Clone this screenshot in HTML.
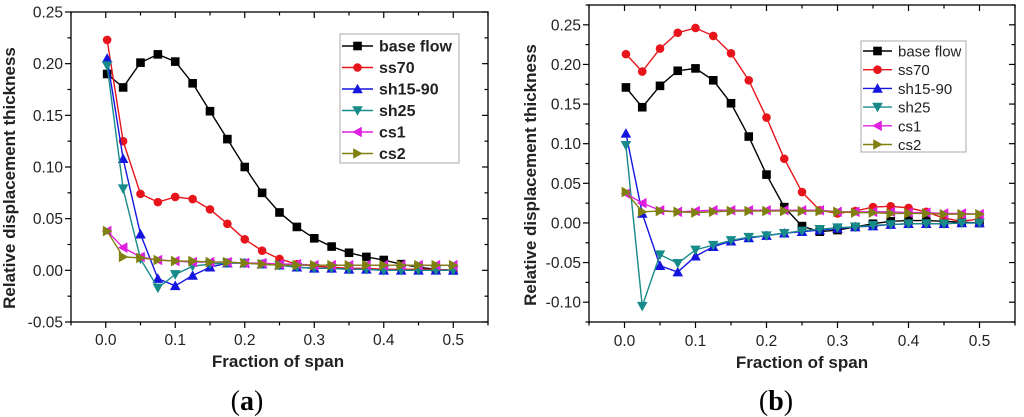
<!DOCTYPE html>
<html><head><meta charset="utf-8"><style>
html,body{margin:0;padding:0;background:#fff;width:1024px;height:417px;overflow:hidden}
svg{display:block;font-family:"Liberation Sans",Arial,sans-serif}
</style></head><body>
<svg id="fig" width="1024" height="417" viewBox="0 0 1024 417"></svg>
<script>
const xVals=[0.002,0.025,0.05,0.075,0.1,0.125,0.15,0.175,0.2,0.225,0.25,0.275,0.3,0.325,0.35,0.375,0.4,0.425,0.45,0.475,0.5];
const seriesNames=["base flow","ss70","sh15-90","sh25","cs1","cs2"];
const yTicksA=[-0.05,0,0.05,0.10,0.15,0.20,0.25];
const yTicksB=[-0.10,-0.05,0,0.05,0.10,0.15,0.20,0.25];
const xTicks=[0,0.1,0.2,0.3,0.4,0.5];
const aBase=[0.19,0.177,0.201,0.209,0.202,0.181,0.154,0.127,0.100,0.075,0.056,0.042,0.031,0.023,0.017,0.013,0.010,0.006,0.003,0.001,0.0];
const aSs70=[0.223,0.125,0.074,0.066,0.071,0.069,0.059,0.045,0.030,0.019,0.011,0.006,0.004,0.003,0.002,0.002,0.001,0.001,0.001,0.001,0.0];
const aSh15=[0.205,0.108,0.035,-0.008,-0.015,-0.005,0.003,0.007,0.007,0.006,0.005,0.003,0.002,0.002,0.001,0.001,0.0,0.0,0.0,0.0,0.0];
const aSh25=[0.198,0.079,0.011,-0.017,-0.004,0.004,0.006,0.007,0.007,0.006,0.005,0.003,0.002,0.002,0.001,0.001,0.0,0.0,0.0,0.0,0.0];
const aCs1=[0.038,0.022,0.013,0.010,0.009,0.008,0.008,0.008,0.007,0.007,0.006,0.006,0.005,0.005,0.005,0.005,0.005,0.005,0.005,0.005,0.005];
const aCs2=[0.038,0.013,0.012,0.010,0.009,0.009,0.008,0.008,0.007,0.006,0.005,0.005,0.005,0.005,0.005,0.005,0.005,0.005,0.005,0.005,0.005];
const bBase=[0.171,0.146,0.173,0.192,0.195,0.180,0.151,0.109,0.061,0.020,-0.004,-0.011,-0.009,-0.005,-0.001,0.002,0.003,0.003,0.002,0.001,0.0];
const bSs70=[0.213,0.191,0.220,0.240,0.246,0.236,0.214,0.180,0.133,0.081,0.039,0.016,0.012,0.015,0.020,0.021,0.019,0.014,0.006,0.002,0.005];
const bSh15=[0.113,0.012,-0.054,-0.062,-0.042,-0.030,-0.023,-0.019,-0.016,-0.013,-0.011,-0.009,-0.007,-0.005,-0.004,-0.002,-0.001,-0.001,-0.001,0.0,0.0];
const bSh25=[0.098,-0.105,-0.040,-0.051,-0.034,-0.028,-0.022,-0.018,-0.016,-0.013,-0.010,-0.008,-0.006,-0.005,-0.003,-0.002,-0.001,-0.001,-0.001,0.0,0.0];
const bCs1=[0.037,0.025,0.016,0.014,0.015,0.016,0.016,0.016,0.016,0.016,0.016,0.016,0.014,0.014,0.014,0.014,0.013,0.013,0.012,0.012,0.011];
const bCs2=[0.039,0.014,0.015,0.014,0.013,0.014,0.015,0.015,0.015,0.015,0.015,0.015,0.014,0.013,0.013,0.012,0.012,0.012,0.011,0.011,0.011];

const colors=["#000000","#e8141b","#1515e0","#178a8a","#e020e0","#808010"];
const markers=["square","circle","up","down","left","right"];
const NS="http://www.w3.org/2000/svg";
const svg=document.getElementById("fig");
function mk(tag,attrs,parent){const e=document.createElementNS(NS,tag);for(const k in attrs)e.setAttribute(k,attrs[k]);(parent||svg).appendChild(e);return e;}
function marker(type,cx,cy,col,g){
  const s=4.3;let e;
  if(type==="square")e=mk("rect",{x:cx-s,y:cy-s,width:2*s,height:2*s,fill:col},g);
  else if(type==="circle")e=mk("circle",{cx:cx,cy:cy,r:s,fill:col},g);
  else{let p;
    if(type==="up")p=[[cx,cy-s-1],[cx-s-1,cy+s],[cx+s+1,cy+s]];
    if(type==="down")p=[[cx,cy+s+1],[cx-s-1,cy-s],[cx+s+1,cy-s]];
    if(type==="left")p=[[cx-s-1,cy],[cx+s,cy-s-1],[cx+s,cy+s+1]];
    if(type==="right")p=[[cx+s+1,cy],[cx-s,cy-s-1],[cx-s,cy+s+1]];
    e=mk("polygon",{points:p.map(q=>q.join(",")).join(" "),fill:col},g);}
  return e;
}
function panel(cfg){
  const {L,R,T,B,ymin,ymax,yTicks,yMinorStep,data,tag,leg,boldLeg,titleX,titleY,labelX,labelY,letter}=cfg;
  const xs=v=>L+(v+0.05)/0.6*(R-L);
  const ys=v=>B-(v-ymin)/(ymax-ymin)*(B-T);
  const g=mk("g",{});
  
  
  const frame=mk("rect",{x:L,y:T,width:R-L,height:B-T,fill:"none",stroke:"#000","stroke-width":1.3},g);
  
  
  for(let v=Math.ceil(ymin/yMinorStep)*yMinorStep;v<=ymax+1e-9;v+=yMinorStep){
    const y=ys(v);const major=yTicks.some(t=>Math.abs(t-v)<1e-6);const len=major?6:3.5;
    mk("line",{x1:L,x2:L-len,y1:y,y2:y,stroke:"#000","stroke-width":1.2},g);
    mk("line",{x1:R,x2:R-len,y1:y,y2:y,stroke:"#000","stroke-width":1.2},g);
  }
  yTicks.forEach(v=>{const t=mk("text",{x:L-8,y:ys(v)+5.5,"text-anchor":"end","font-size":15.5,fill:"#222"},g);t.textContent=v.toFixed(2);
    
    });
  for(let v=-0.05;v<=0.55+1e-9;v+=0.05){
    const x=xs(v);const major=Math.abs(Math.round(v*10)-v*10)<1e-6;const len=major?6:3.5;
    mk("line",{x1:x,x2:x,y1:B,y2:B+len,stroke:"#000","stroke-width":1.2},g);
    mk("line",{x1:x,x2:x,y1:T,y2:T+len,stroke:"#000","stroke-width":1.2},g);
  }
  xTicks.forEach(v=>{const t=mk("text",{x:xs(v),y:labelY,"text-anchor":"middle","font-size":15.5,fill:"#222"},g);t.textContent=v.toFixed(1);
    
    });
  const xt=mk("text",{x:labelX,y:labelY+22,"text-anchor":"middle","font-size":17,"font-weight":"bold",fill:"#222"},g);
  xt.textContent="Fraction of span";
  
  
  const yt=mk("text",{x:titleX,y:titleY,"text-anchor":"middle","font-size":17,"font-weight":"bold",fill:"#222",transform:`rotate(-90 ${titleX} ${titleY})`},g);
  yt.textContent="Relative displacement thickness";
  
  
  data.forEach((arr,i)=>{
    const sg=mk("g",{},g);
    
    
    mk("polyline",{points:arr.map((v,j)=>xs(xVals[j])+","+ys(v)).join(" "),fill:"none",stroke:colors[i],"stroke-width":1.4},sg);
    arr.forEach((v,j)=>{const m=marker(markers[i],xs(xVals[j]),ys(v),colors[i],sg);
      
      });
  });
  const lg=mk("g",{},g);
  
  
  mk("rect",{x:leg.x,y:leg.y,width:leg.w,height:leg.h,fill:"#fff",stroke:"#aaa","stroke-width":1},lg);
  seriesNames.forEach((n,i)=>{
    const y=leg.y0+i*leg.dy;
    const eg=mk("g",{},lg);
    
    
    mk("line",{x1:leg.x+2,x2:leg.x+leg.lw,y1:y,y2:y,stroke:colors[i],"stroke-width":1.4},eg);
    marker(markers[i],leg.x+2+(leg.lw-2)/2,y,colors[i],eg);
    const t=mk("text",{x:leg.x+leg.lw+6,y:y+5.5,"font-size":leg.fs,"font-weight":boldLeg?"bold":"normal",fill:"#222"},eg);
    t.textContent=n;
  });
  const lt=mk("text",{x:letter.x,y:letter.y,"text-anchor":"middle","font-size":28,"font-family":"Liberation Serif,serif",fill:"#000"},g);
  lt.innerHTML='(<tspan font-weight="bold">'+tag+'</tspan>)';
  
  
}
panel({L:71,R:488,T:12,B:322,ymin:-0.05,ymax:0.25,yTicks:yTicksA,yMinorStep:0.025,
  data:[aBase,aSs70,aSh15,aSh25,aCs1,aCs2],tag:"a",
  leg:{x:340,y:34,w:119,h:129,y0:46,dy:21.5,lw:33,fs:16},boldLeg:true,
  titleX:15,titleY:178,labelX:278,labelY:345,letter:{x:247,y:410}});
panel({L:589,R:1015,T:5,B:322,ymin:-0.125,ymax:0.275,yTicks:yTicksB,yMinorStep:0.025,
  data:[bBase,bSs70,bSh15,bSh25,bCs1,bCs2],tag:"b",
  leg:{x:861,y:41,w:105,h:111,y0:51,dy:18.7,lw:31,fs:15},boldLeg:false,
  titleX:536,titleY:175,labelX:802,labelY:346,letter:{x:776,y:410}});
</script>
</body></html>
